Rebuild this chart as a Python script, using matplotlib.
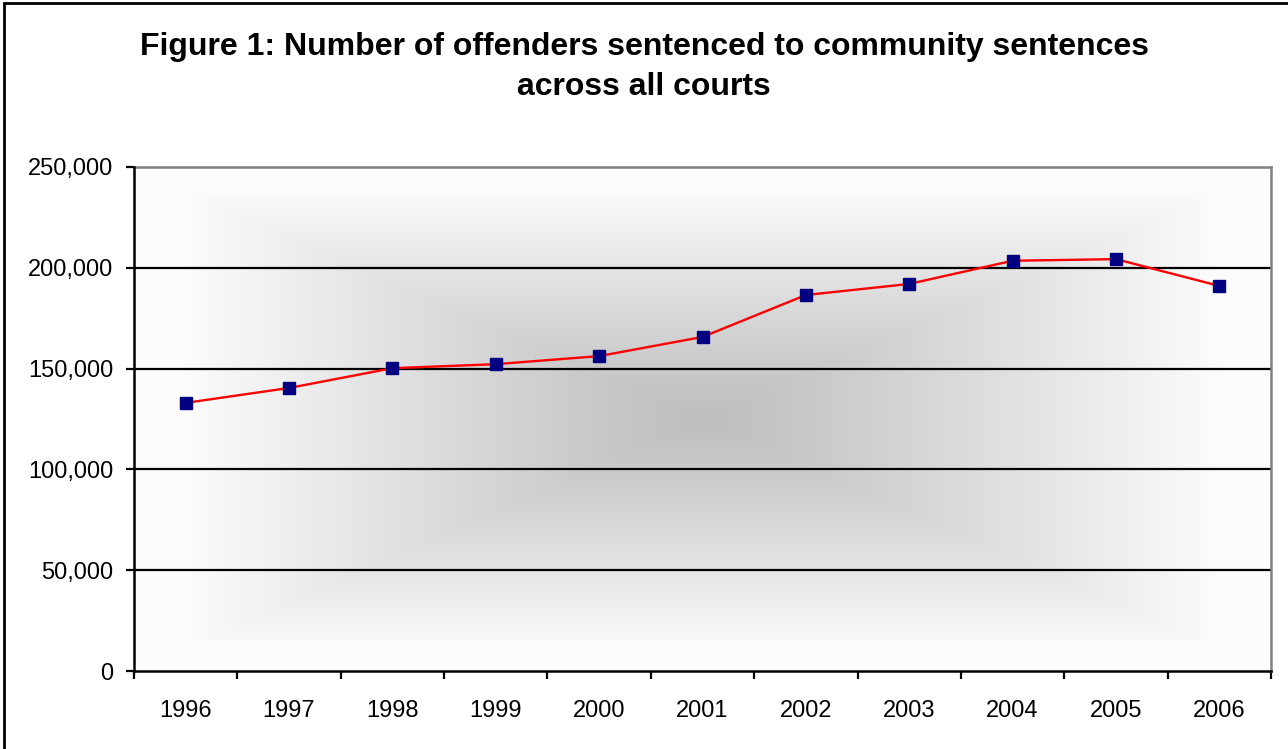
import numpy as np
import matplotlib
matplotlib.use("Agg")
import matplotlib.pyplot as plt
from matplotlib.ticker import FuncFormatter, FixedLocator
from matplotlib.patches import Rectangle

years = ["1996", "1997", "1998", "1999", "2000", "2001", "2002", "2003", "2004", "2005", "2006"]
offenders = [133000, 140400, 150200, 152200, 156200, 165700, 186500, 192000, 203500, 204300, 191000]
gridvals = [50000, 100000, 150000, 200000]
title = "Figure 1: Number of offenders sentenced to community sentences\nacross all courts"

plt.rcParams['font.family'] = ['Liberation Sans', 'DejaVu Sans']

fig = plt.figure(figsize=(12.88, 7.49), dpi=100)
fig.patch.set_facecolor('white')
ax = fig.add_axes([134/1288, 1 - 671/749, (1271-134)/1288, (671-167)/749])

x = np.arange(len(years))
ax.set_xlim(-0.5, len(years) - 0.5)
ax.set_ylim(0, 250000)

# rectangular "from center" gradient background
n = 400
gx = np.linspace(-1, 1, n)
gy = np.linspace(-1, 1, n)
GX, GY = np.meshgrid(gx, gy)
d = np.maximum(np.abs(GX), np.abs(GY))
d = np.clip(d / 0.92, 0, 1)
val = 0.745 + (0.99 - 0.745) * d ** 1.1
img = np.dstack([val, val, val])
ax.imshow(img, extent=[-0.5, len(years) - 0.5, 0, 250000], aspect='auto',
          zorder=0, interpolation='bilinear')

for g in gridvals:
    ax.axhline(g, color='black', linewidth=1.6, zorder=1)
ax.set_yticks(np.arange(0, 250001, 50000))
ax.yaxis.set_major_formatter(FuncFormatter(lambda v, p: f"{int(v):,}"))

ax.plot(x, offenders, color='#ff0000', linewidth=1.7, zorder=3,
        marker='s', markersize=9, markerfacecolor='#000080',
        markeredgecolor='#000080', clip_on=False)

ax.set_xticks(x)
ax.set_xticklabels(years)
ax.xaxis.set_minor_locator(FixedLocator(np.arange(-0.5, len(years), 1.0)))
ax.tick_params(axis='x', which='major', length=0, pad=21, labelsize=17)
ax.tick_params(axis='x', which='minor', length=6, width=1.6, direction='out', color='black')
ax.tick_params(axis='y', which='major', length=6, width=1.6, direction='out', pad=9, labelsize=17)

for side in ['left', 'bottom']:
    ax.spines[side].set_color('black')
    ax.spines[side].set_linewidth(1.8)
for side in ['top', 'right']:
    ax.spines[side].set_color('#808080')
    ax.spines[side].set_linewidth(1.8)
ax.spines['left'].set_zorder(4)
ax.spines['bottom'].set_zorder(4)

fig.text(0.5, 1 - 67/749, title, ha='center', va='center', fontsize=23,
         fontweight='bold', linespacing=1.4)

# outer chart border
fig.patches.append(Rectangle((4/1288, -0.05), 1.2, 1 - 3/749 + 0.05,
                             transform=fig.transFigure, fill=False,
                             edgecolor='black', linewidth=2, zorder=10))

fig.savefig('out.png', dpi=100)
